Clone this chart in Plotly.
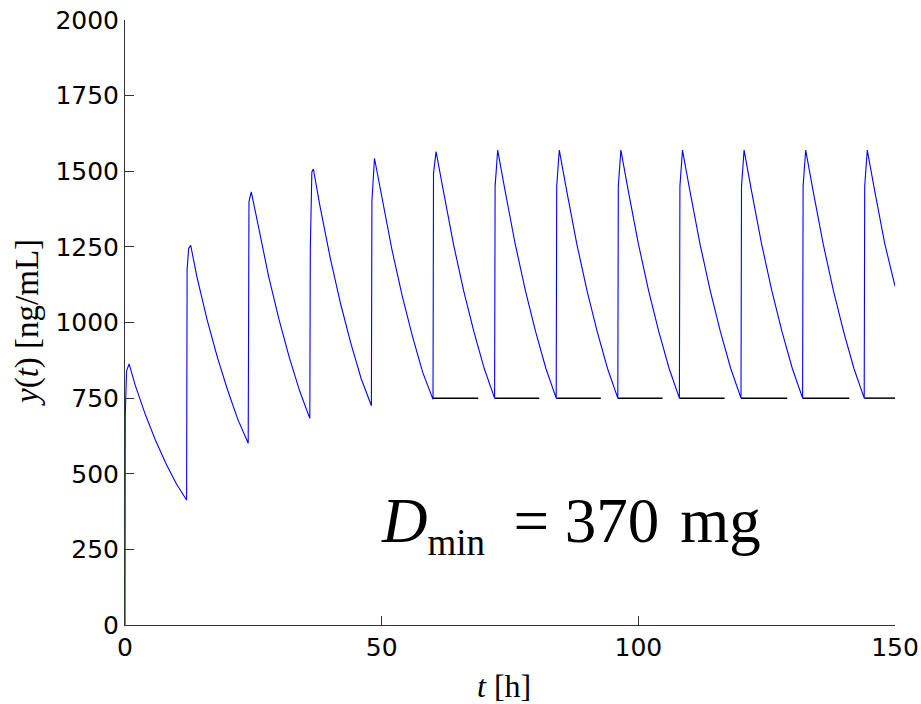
import plotly.graph_objects as go

# Concentration curve y(t) [ng/mL] (dose every 12 h)
t_hours = [
    0, 0.05, 0.3, 0.8, 2, 4, 6, 8, 10, 12,
    12.1, 12.4, 12.8, 14, 16, 18, 20, 22, 24,
    24.15, 24.6, 26, 28, 30, 32, 34, 36,
    36.1, 36.4, 36.7, 38, 40, 42, 44, 46, 48,
    48.1, 48.6, 50, 52, 54, 56, 58, 60,
    60.1, 60.6, 62, 64, 66, 68, 70, 72,
    72.1, 72.6, 74, 76, 78, 80, 82, 84,
    84.1, 84.6, 86, 88, 90, 92, 94, 96,
    96.1, 96.6, 98, 100, 102, 104, 106, 108,
    108.1, 108.6, 110, 112, 114, 116, 118, 120,
    120.1, 120.6, 122, 124, 126, 128, 130, 132,
    132.1, 132.6, 134, 136, 138, 140, 142, 144,
    144.1, 144.6, 146, 148, 150,
]
conc = [
    0, 690, 840, 863, 792, 694, 608, 533, 467, 413,
    1175, 1245, 1255, 1152, 1009, 885, 776, 679, 601,
    1400, 1432, 1315, 1151, 1010, 885, 775, 683,
    1240, 1498, 1507, 1383, 1212, 1062, 931, 815, 725,
    1400, 1543, 1416, 1241, 1088, 954, 835, 746,
    1493, 1565, 1437, 1258, 1103, 967, 847, 750,
    1450, 1570, 1439, 1261, 1105, 969, 848, 750,
    1450, 1570, 1439, 1261, 1105, 969, 848, 750,
    1450, 1570, 1439, 1261, 1105, 969, 848, 750,
    1450, 1570, 1439, 1261, 1105, 969, 848, 750,
    1450, 1570, 1439, 1261, 1105, 969, 848, 750,
    1450, 1570, 1439, 1261, 1105, 969, 848, 750,
    1450, 1570, 1439, 1261, 1120,
]

# Black reference segments at the minimum level
level = 750
seg_start = [60, 72, 84, 96, 108, 120, 132, 144]
seg_end = [68.8, 80.7, 92.7, 104.7, 116.8, 129.0, 141.1, 150]

x_ticks = [0, 50, 100, 150]
y_ticks = [0, 250, 500, 750, 1000, 1250, 1500, 1750, 2000]

seg_x, seg_y = [], []
for a, b in zip(seg_start, seg_end):
    seg_x += [a, b, None]
    seg_y += [level, level, None]

fig = go.Figure()
fig.add_trace(go.Scatter(x=seg_x, y=seg_y, mode="lines",
                         line=dict(color="black", width=1.5),
                         hoverinfo="skip", showlegend=False))
fig.add_trace(go.Scatter(x=t_hours, y=conc, mode="lines",
                         line=dict(color="#0000ff", width=1.1),
                         showlegend=False))

tickfont = dict(family="DejaVu Sans", size=25, color="black")
fig.update_xaxes(range=[0, 150], tickvals=x_ticks, ticks="inside", ticklen=9,
                 tickcolor="#333", showline=True, linecolor="#333", linewidth=1,
                 showgrid=False, zeroline=False, tickfont=tickfont, automargin=False)
fig.update_yaxes(range=[0, 2000], tickvals=y_ticks, ticks="inside", ticklen=9,
                 tickcolor="#333", showline=True, linecolor="#333", linewidth=1,
                 showgrid=False, zeroline=False, tickfont=tickfont, automargin=False)

serif = "Liberation Serif"
fig.add_annotation(xref="paper", yref="paper", x=-0.1273, y=0.5008,
                   text="<i>y</i>(<i>t</i>) [ng/mL]", textangle=-90,
                   showarrow=False, xanchor="center", yanchor="middle",
                   font=dict(family=serif, size=33, color="black"))
fig.add_annotation(xref="paper", yref="paper", x=0.492, y=-0.1008,
                   text="<i>t</i> [h]", showarrow=False,
                   xanchor="center", yanchor="middle",
                   font=dict(family=serif, size=32, color="black"))
fig.add_annotation(xref="paper", yref="paper", x=0.330, y=0.1655,
                   text="<i>D</i><sub><span style='font-size:37px'>min</span></sub>&nbsp;&#8201;= 370&nbsp;&#8202;mg",
                   showarrow=False, xanchor="left", yanchor="middle",
                   font=dict(family=serif, size=63, color="black"))

fig.update_layout(width=921, height=704,
                  margin=dict(l=125, r=26, t=20, b=79),
                  paper_bgcolor="white", plot_bgcolor="white")

fig.write_html("out.html")
